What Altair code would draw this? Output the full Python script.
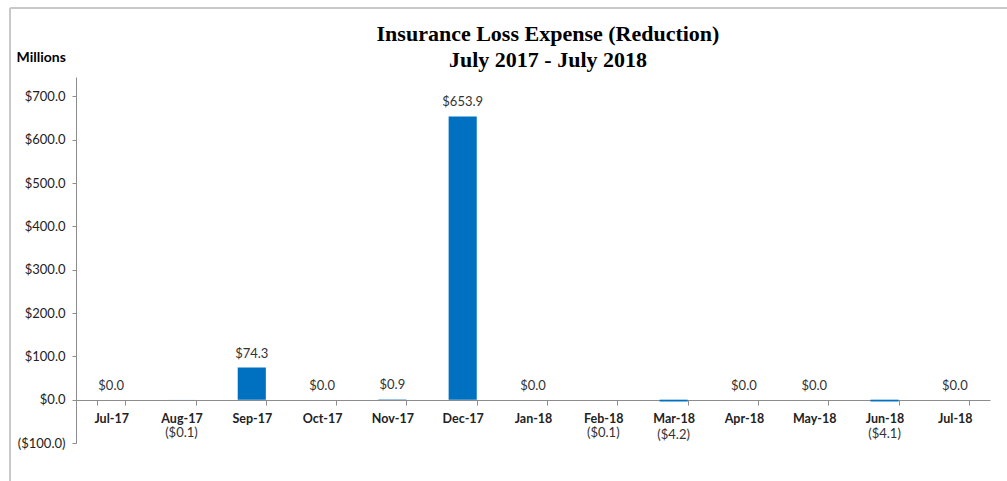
import altair as alt
import pandas as pd

months = ["Jul-17", "Aug-17", "Sep-17", "Oct-17", "Nov-17", "Dec-17", "Jan-18",
          "Feb-18", "Mar-18", "Apr-18", "May-18", "Jun-18", "Jul-18"]
values = [0.0, -0.1, 74.3, 0.0, 0.9, 653.9, 0.0, -0.1, -4.2, 0.0, 0.0, -4.1, 0.0]
y_ticks = [-100, 0, 100, 200, 300, 400, 500, 600, 700]
title_lines = ["Insurance Loss Expense (Reduction)", "July 2017 - July 2018"]

df = pd.DataFrame({"month": months, "v": values})
tdf = pd.DataFrame({"line": title_lines, "row": [0, 1]})

W, H = 914, 366
label_expr = "datum.v < 0 ? '($' + format(-datum.v, '.1f') + ')' : '$' + format(datum.v, '.1f')"

x = alt.X("month:N", sort=months, title=None,
          scale=alt.Scale(paddingInner=0.6, paddingOuter=0.3),
          axis=alt.Axis(offset=-43, bandPosition=0, tickBand="extent", labelAngle=0,
                        labelFont="Lato", labelFontSize=12.5, labelFontWeight="bold",
                        labelColor="#222222", labelPadding=7, domainColor="#8c8c8c",
                        tickColor="#8c8c8c", tickSize=5, grid=False))
y = alt.Y("v:Q", title="Millions",
          scale=alt.Scale(domain=[-100, 745], nice=False, zero=False),
          axis=alt.Axis(values=y_ticks, grid=False,
                        labelExpr="datum.value < 0 ? '($' + format(-datum.value, '.1f') + ')' : '$' + format(datum.value, '.1f')",
                        labelFont="Lato", labelFontSize=13, labelColor="#222222",
                        labelPadding=7, domainColor="#8c8c8c", tickColor="#8c8c8c",
                        tickSize=4, titleAngle=0, titleAlign="left", titleBaseline="middle",
                        titleX=-60, titleY=-20, titleFont="Lato", titleFontSize=14,
                        titleFontWeight="bold", titleColor="#000000"))

base = alt.Chart(df)

frame = base.mark_rect(fill=None, stroke="#c8c8c8", strokeWidth=1).encode(
    x=alt.value(-66), x2=alt.value(940), y=alt.value(-69), y2=alt.value(420))

bars = base.mark_bar(color="#0070C0").encode(x=x, y=y, y2=alt.datum(0))

pos = base.transform_filter("datum.v >= 0").transform_calculate(lbl=label_expr).mark_text(
    font="Lato", fontSize=13, color="#333333", baseline="middle", dy=-14
).encode(x=alt.X("month:N", sort=months), y="v:Q", text="lbl:N")

neg = base.transform_filter("datum.v < 0").transform_calculate(lbl=label_expr).mark_text(
    font="Lato", fontSize=13, color="#333333", baseline="middle", dy=33
).encode(x=alt.X("month:N", sort=months), y="v:Q", text="lbl:N")

title_style = dict(font="Liberation Serif", fontSize=22, fontWeight="bold", color="#000000",
                   baseline="middle", align="center")
title1 = alt.Chart(tdf).transform_filter("datum.row == 0").mark_text(**title_style).encode(
    x=alt.value(W / 2 + 15), y=alt.value(-43), text="line:N")
title2 = alt.Chart(tdf).transform_filter("datum.row == 1").mark_text(**title_style).encode(
    x=alt.value(W / 2 + 15), y=alt.value(-17), text="line:N")

chart = alt.layer(frame, bars, pos, neg, title1, title2).properties(
    width=W, height=H,
    background="white",
    autosize=alt.AutoSizeParams(type="none"),
    padding={"left": 76, "top": 77, "right": 17, "bottom": 38},
).configure_view(strokeWidth=0)

chart.save("out.html", embed_options={"renderer": "svg", "actions": False})
